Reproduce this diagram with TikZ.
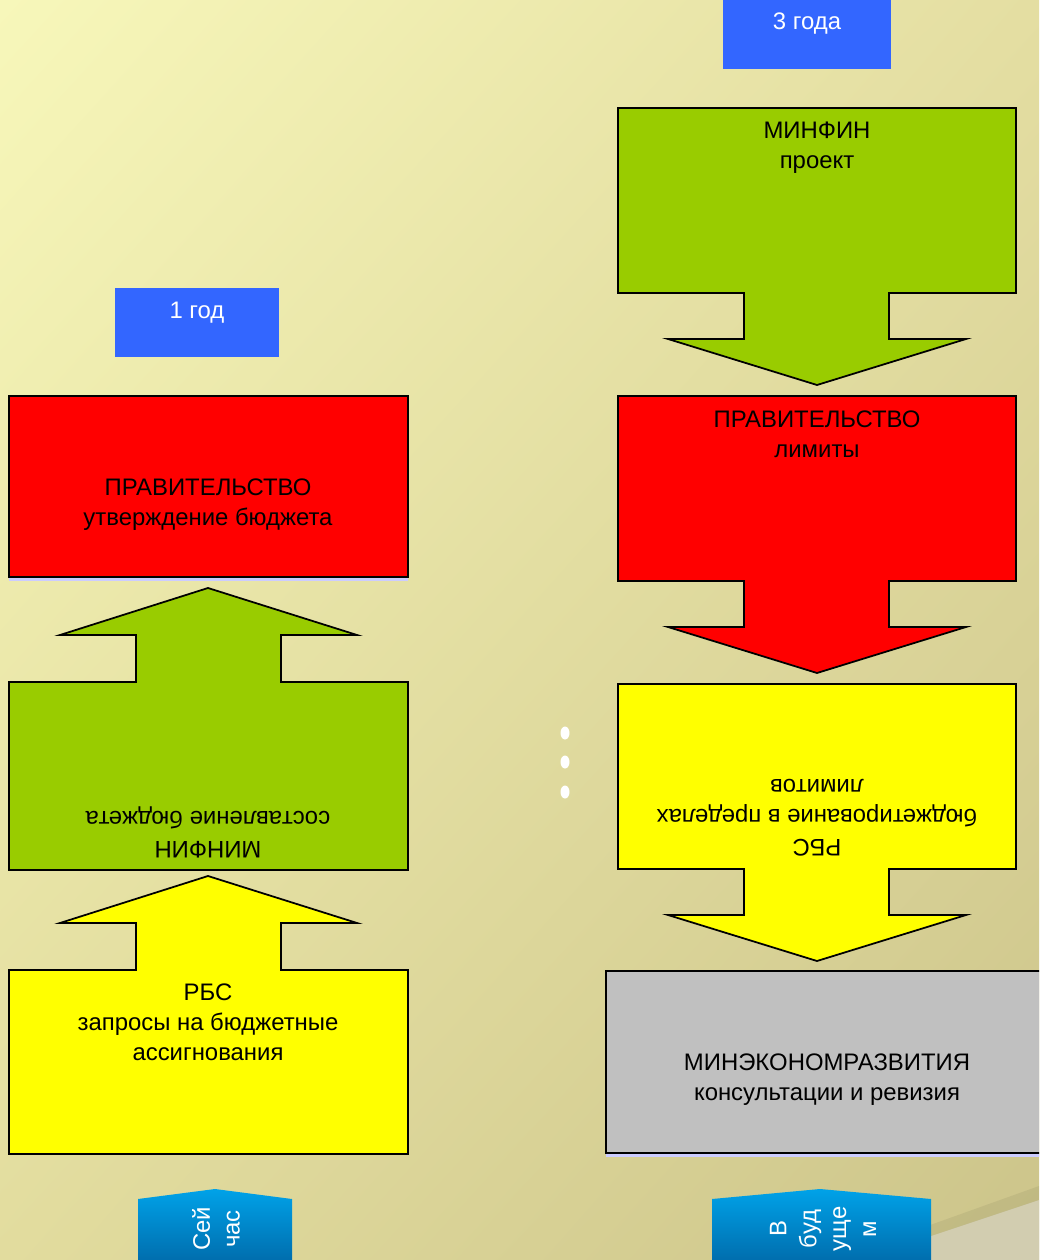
\documentclass[tikz,border=0pt]{standalone}
\usepackage{fontspec}
\setmainfont{Liberation Sans}
\usepackage{tikz}
\usetikzlibrary{shadings}

\definecolor{mfgreen}{HTML}{99CC00}
\definecolor{mfred}{HTML}{FF0000}
\definecolor{mfyellow}{HTML}{FFFF00}
\definecolor{mfgray}{HTML}{C0C0C0}
\definecolor{yearblue}{HTML}{3366FF}
\definecolor{tabtop}{HTML}{00A2E8}
\definecolor{tabbottom}{HTML}{006EAE}
\definecolor{strip}{HTML}{CCCCFF}
\definecolor{curl}{HTML}{D2CDB0}
\definecolor{bgul}{HTML}{F7F7BA}
\definecolor{bgur}{HTML}{E4DEA2}
\definecolor{bgll}{HTML}{E2DC9E}
\definecolor{bglr}{HTML}{CCC48A}

\begin{document}
\begin{tikzpicture}[x=0.02cm,y=-0.02cm,
    shape line/.style={draw=black,line width=1pt,line join=miter},
    box text/.style={font=\fontsize{13.6}{17}\selectfont,align=center,text=black,inner sep=0pt},
    year text/.style={font=\fontsize{13.6}{17}\selectfont,text=white,inner sep=0pt},
    tab text/.style={font=\fontsize{13.6}{17}\selectfont,align=center,text=white,rotate=90,inner sep=0pt}]

  \clip (0,0) rectangle (1039,1260);
  % background
  \shade[upper left=bgul,upper right=bgur,lower left=bgll,lower right=bglr]
    (0,0) rectangle (1039,1260);
  \fill[curl] (880,1253) -- (1039,1200) -- (1039,1260) -- (880,1260) -- cycle;
  \fill[black,opacity=0.06] (880,1253) -- (1039,1200) -- (1039,1186) -- (880,1243) -- cycle;

  % year labels
  \fill[yearblue] (115,288) rectangle (279,357);
  \node[year text] (year1) at (197,313) {1 год};
  \fill[yearblue] (723,0) rectangle (891,69);
  \node[year text] (year3) at (807,24) {3 года};

  % left column: boxes and up arrows
  \fill[strip] (9,577) rectangle (408,581);
  \draw[shape line,fill=mfred] (9,396) rectangle (408,577);
  \foreach \t/\h/\col in {588/282/mfgreen, 876/278/mfyellow}
    \draw[shape line,fill=\col] (9,\t+\h) -- (9,\t+94) -- (136,\t+94) -- (136,\t+47)
      -- (60,\t+47) -- (208,\t) -- (357,\t+47) -- (281,\t+47) -- (281,\t+94)
      -- (408,\t+94) -- (408,\t+\h) -- cycle;

  \node[box text] (gov1) at (208,505) {ПРАВИТЕЛЬСТВО\\утверждение бюджета};
  \node[box text,rotate=180] (mf1) at (208,832) {МИНФИН\\составление бюджета};
  \node[box text] (rbs1) at (208,1022) {РБС\\запросы на бюджетные\\ассигнования};

  % right column: down arrows and box
  \foreach \t/\col in {108/mfgreen, 396/mfred, 684/mfyellow}
    \draw[shape line,fill=\col] (618,\t) -- (1016,\t) -- (1016,\t+185) -- (889,\t+185)
      -- (889,\t+231) -- (966,\t+231) -- (817,\t+277) -- (668,\t+231) -- (744,\t+231)
      -- (744,\t+185) -- (618,\t+185) -- cycle;
  \fill[strip] (606,1153) rectangle (1045,1157);
  \draw[shape line,fill=mfgray] (606,971) rectangle (1045,1153);

  \node[box text] (mf3) at (817,148) {МИНФИН\\проект};
  \node[box text] (gov3) at (817,434) {ПРАВИТЕЛЬСТВО\\лимиты};
  \node[box text,rotate=180] (rbs3) at (817,818) {РБС\\бюджетирование в пределах\\лимитов};
  \node[box text] (mer) at (827,1080) {МИНЭКОНОМРАЗВИТИЯ\\консультации и ревизия};

  % dots
  \foreach \y in {733,762,792}
    \fill[white] (565,\y) ellipse [x radius=4.5,y radius=6.5];

  % bottom tabs
  \shade[top color=tabtop,bottom color=tabbottom]
    (138,1260) -- (138,1199) -- (215,1189) -- (292,1199) -- (292,1260) -- cycle;
  \node[tab text] (now) at (216,1229) {Сей\\час};
  \shade[top color=tabtop,bottom color=tabbottom]
    (712,1260) -- (712,1199) -- (820,1189) -- (931,1199) -- (931,1260) -- cycle;
  \node[tab text] (future) at (823,1229) {В\\буд\\уще\\м};
\end{tikzpicture}
\end{document}
